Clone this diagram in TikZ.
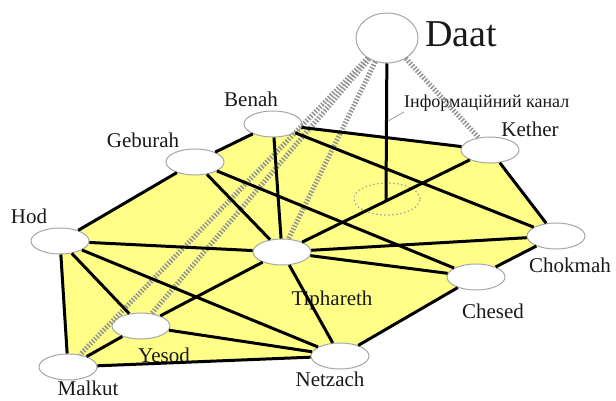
\documentclass[tikz,border=0pt]{standalone}
\usepackage{fontspec}
\setmainfont{Liberation Serif}
\usepackage{tikz}
\usetikzlibrary{shapes.geometric, backgrounds}
\definecolor{treefill}{RGB}{255,255,136}

\begin{document}
\begin{tikzpicture}[x=1pt, y=-1pt]
\tikzstyle{sef}=[ellipse, fill=white, draw=gray!70, line width=1pt, minimum width=58pt, minimum height=26pt, inner sep=0pt]
\tikzstyle{connect}=[-, line width=3pt, black]
\tikzstyle{channel}=[-, line width=5pt, gray!85, dash pattern=on 1.5pt off 1.7pt]
\tikzstyle{sefname}=[font=\fontsize{21}{24}\selectfont, text=black!90, inner sep=0pt, anchor=base]
\useasboundingbox (0,0) rectangle (616,401);
\node[sef, minimum width=62pt, minimum height=50pt] (daat) at (387,38) {};
\node[sef] (benah) at (273,124) {};
\node[sef] (kether) at (490,150) {};
\node[sef] (geburah) at (195,162) {};
\node[sef] (hod) at (60,241) {};
\node[sef] (tiphareth) at (282,252) {};
\node[sef] (chokmah) at (556,236) {};
\node[sef] (chesed) at (476,277) {};
\node[sef] (yesod) at (141,326) {};
\node[sef] (malkut) at (68,367) {};
\node[sef] (netzach) at (340,356) {};
\node[sefname, font=\fontsize{38}{40}\selectfont] (ldaat) at (461,47) {Daat};
\node[sefname] (lbenah) at (251,107) {Benah};
\node[sefname] (lkether) at (530,137) {Kether};
\node[sefname] (lgeburah) at (143,148) {Geburah};
\node[sefname] (lhod) at (29,223) {Hod};
\node[sefname] (ltiphareth) at (332,305) {Tiphareth};
\node[sefname] (lchokmah) at (570,272) {Chokmah};
\node[sefname] (lchesed) at (493,318) {Chesed};
\node[sefname] (lyesod) at (164,362) {Yesod};
\node[sefname] (lnetzach) at (330,386) {Netzach};
\node[sefname] (lmalkut) at (88,395) {Malkut};
\node[sefname, font=\fontsize{18}{20}\selectfont, anchor=base west] (linfo) at (404,108) {Інформаційний канал};
\begin{scope}[on background layer]
\fill[treefill] (benah.center) -- (kether.center) -- (chokmah.center) -- (chesed.center) -- (netzach.center) -- (malkut.center) -- (hod.center) -- (geburah.center) -- cycle;
\end{scope}
\node[ellipse, draw=gray!70, line width=1.2pt, dash pattern=on 1.5pt off 2.5pt, minimum width=66pt, minimum height=32pt] (merge) at (387,199) {};
\coordinate (chan) at (386,201);
\coordinate (lead) at (388,121);
\path (daat) edge [channel] (malkut);
\path (daat) edge [channel] (yesod);
\path (daat) edge [channel] (tiphareth);
\path (daat) edge [channel] (kether);
\path (benah) edge [connect] (geburah);
\path (geburah) edge [connect] (hod);
\path (hod) edge [connect] (malkut);
\path (malkut) edge [connect] (netzach);
\path (netzach) edge [connect] (chesed);
\path (chesed) edge [connect] (chokmah);
\path (chokmah) edge [connect] (kether);
\path (kether) edge [connect] (benah);
\path (benah) edge [connect] (tiphareth);
\path (benah) edge [connect] (chokmah);
\path (geburah) edge [connect] (tiphareth);
\path (geburah) edge [connect] (chesed);
\path (hod) edge [connect] (tiphareth);
\path (hod) edge [connect] (netzach);
\path (hod) edge [connect] (yesod);
\path (tiphareth) edge [connect] (kether);
\path (tiphareth) edge [connect] (chokmah);
\path (tiphareth) edge [connect] (chesed);
\path (tiphareth) edge [connect] (yesod);
\path (tiphareth) edge [connect] (netzach);
\path (yesod) edge [connect] (malkut);
\path (yesod) edge [connect] (netzach);
\path (daat) edge [connect] (chan);
\draw[gray!80, line width=0.8pt] (linfo.south west) -- (lead);
\end{tikzpicture}
\end{document}
